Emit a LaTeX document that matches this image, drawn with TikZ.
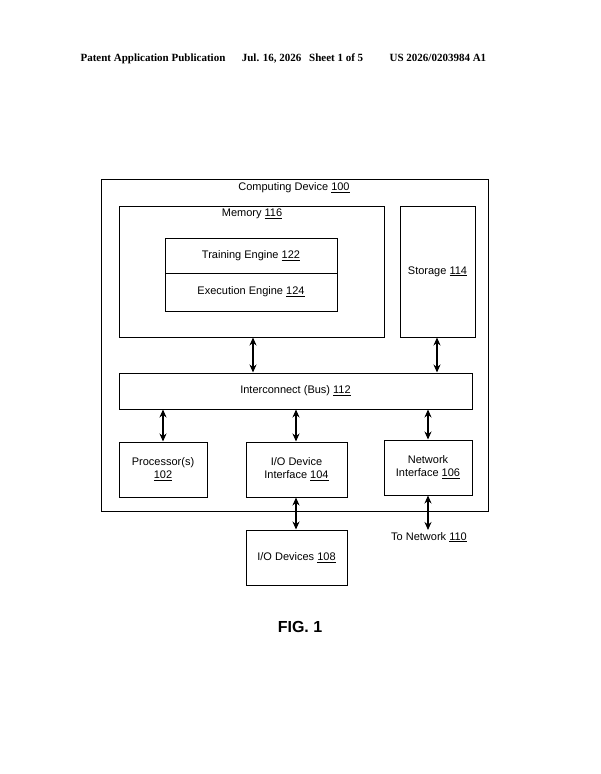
\documentclass[tikz,border=0pt]{standalone}
\usepackage{fontspec}
\setmainfont{Liberation Sans}
\newfontfamily\hdr{Liberation Serif}
\usetikzlibrary{arrows.meta, positioning}
\tikzset{
x=1pt, y=-1pt,
>={Stealth[length=8pt,width=7pt]},
box/.style={%
    rectangle,
    draw=black,
    line width=1pt,
    inner sep=0pt,
    align=center,
    font=\fontsize{11}{13}\selectfont
},
link/.style={<->, line width=1.2pt},
lbl/.style={font=\fontsize{11}{13}\selectfont, inner sep=0pt},
}
\newcommand{\bx}[5]{% name, x1, y1, x2, y2
  \node[box, minimum width=#4-#2, minimum height=#5-#3] (#1) at ({(#2+#4)/2},{(#3+#5)/2}) {};}
\begin{document}
\begin{tikzpicture}
\useasboundingbox (0,0) rectangle (600,774);
% header
\node[font=\hdr\bfseries\fontsize{11}{13}\selectfont, anchor=west] (head) at (77,59)
  {Patent Application Publication\hspace{1.5em}Jul. 16, 2026\hspace{0.7em}Sheet 1 of 5\hspace{2.4em}US 2026/0203984 A1};
% boxes
\bx{dev}{101}{179}{488}{511}
\bx{mem}{119}{206}{384}{337}
\bx{train}{165}{238}{337}{273}
\bx{exec}{165}{273}{337}{311}
\bx{stor}{400}{206}{475}{337}
\bx{bus}{119}{373}{472}{409}
\bx{proc}{119}{442}{207}{497}
\bx{iodi}{246}{442}{347}{497}
\bx{net}{384}{440}{472}{495}
\bx{iodev}{246}{530}{347}{585}
% labels
\node[lbl] (devL) at (294,188) {Computing Device \underline{100}};
\node[lbl] (memL) at (252,214) {Memory \underline{116}};
\node[lbl] at (train) {Training Engine \underline{122}};
\node[lbl] at (exec) {Execution Engine \underline{124}};
\node[lbl] at (stor) {Storage \underline{114}};
\node[lbl] at (bus) {Interconnect (Bus) \underline{112}};
\node[lbl, align=center] at (proc) {Processor(s)\\\underline{102}};
\node[lbl, align=center] at (iodi) {I/O Device\\Interface \underline{104}};
\node[lbl, align=center] at (net) {Network\\Interface \underline{106}};
\node[lbl] at (iodev) {I/O Devices \underline{108}};
\coordinate (toNet) at (428,530);
\node[lbl, anchor=north] (netL) at (429,532) {To Network \underline{110}};
% connectors
\coordinate (c1) at (253,0);
\coordinate (c2) at (437,0);
\coordinate (c3) at (163,0);
\coordinate (c4) at (296,0);
\coordinate (c5) at (428,0);
\draw[link] (mem.south -| c1) -- (bus.north -| c1);
\draw[link] (stor.south -| c2) -- (bus.north -| c2);
\draw[link] (bus.south -| c3) -- (proc.north -| c3);
\draw[link] (bus.south -| c4) -- (iodi.north -| c4);
\draw[link] (bus.south -| c5) -- (net.north -| c5);
\draw[link] (iodi.south -| c4) -- (iodev.north -| c4);
\draw[link] (net.south -| c5) -- (toNet);
% figure label
\node[font=\bfseries\fontsize{16}{19}\selectfont] (fig) at (300,627) {FIG. 1};
\end{tikzpicture}
\end{document}
